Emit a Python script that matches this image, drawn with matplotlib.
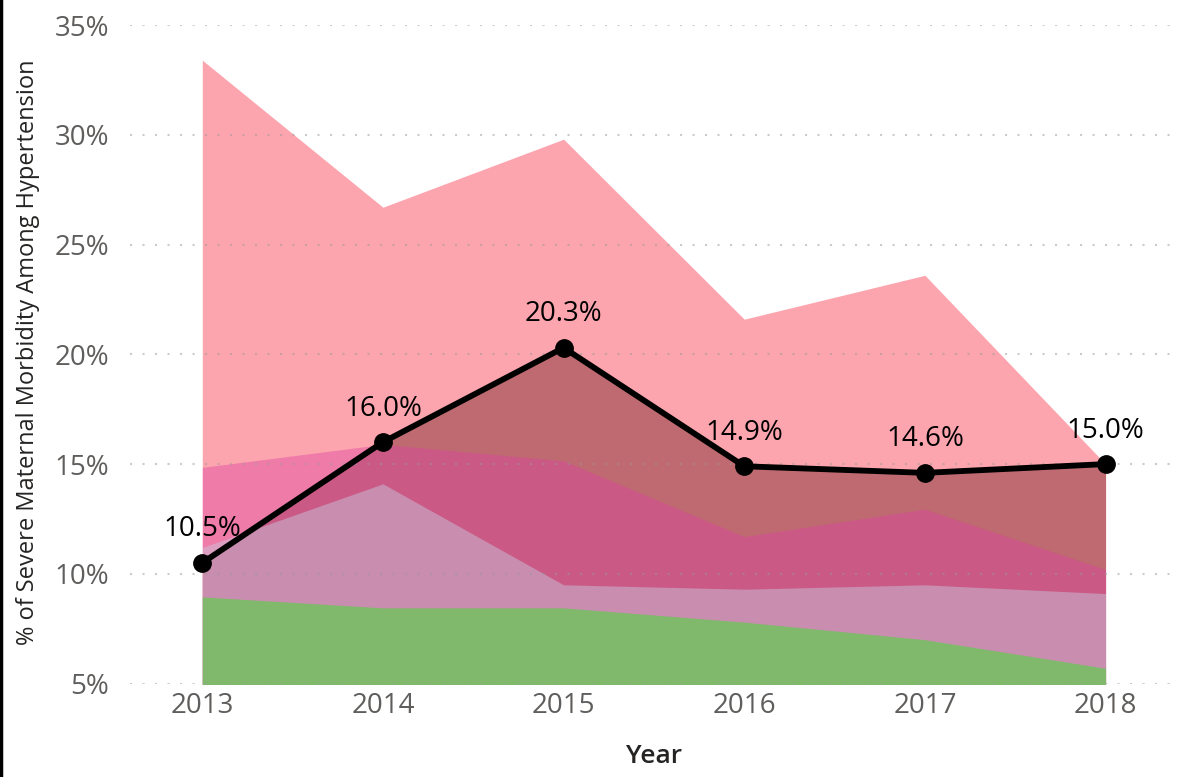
import matplotlib
matplotlib.use("Agg")
import matplotlib.pyplot as plt
from matplotlib.lines import Line2D

plt.rcParams['font.family'] = ['Open Sans', 'DejaVu Sans']

# Data (percent)
years = [2013, 2014, 2015, 2016, 2017, 2018]
smm_rate = [10.5, 16.0, 20.3, 14.9, 14.6, 15.0]     # black line
band_top = [33.4, 26.7, 29.8, 21.6, 23.6, 15.0]     # light pink area
band_mid = [14.85, 15.9, 15.15, 11.7, 12.95, 10.2]  # pink/magenta area
band_low = [11.2, 14.1, 9.5, 9.3, 9.5, 9.1]         # mauve area
band_base = [8.95, 8.45, 8.45, 7.8, 7.0, 5.7]       # green area
y_ticks = [5, 10, 15, 20, 25, 30, 35]

fig = plt.figure(figsize=(11.82, 7.77), dpi=100)
ax = fig.add_axes([0.110, 0.1202, 0.888, 0.8476])

# Areas (overlapping, not stacked)
ax.fill_between(years, 0, band_top, color="#FDA5AE", lw=0, zorder=1)
ax.fill_between(years, 0, smm_rate, color="#BE6A70", lw=0, zorder=1.1)
ax.fill_between(years, 0, band_mid, color="#DC45A2", alpha=0.43, lw=0, zorder=1.2)
ax.fill_between(years, 0, band_low, color="#C7CBE1", alpha=0.46, lw=0, zorder=1.3)
ax.fill_between(years, 0, band_base, color="#80B96B", lw=0, zorder=1.4)

# Line with markers and labels
ax.plot(years, smm_rate, color="black", lw=4.2, marker="o", markersize=12.5,
        zorder=4, solid_joinstyle="round")
for x, v in zip(years, smm_rate):
    ax.annotate(f"{v:.1f}%", (x, v), xytext=(0, 19), textcoords="offset points",
                ha="center", va="baseline", fontsize=20, color="black", zorder=5)

ax.set_xlim(2012.6, 2018.41)
ax.set_ylim(5, 35)
ax.set_xticks(years)
ax.set_xticklabels([str(y) for y in years])
ax.set_yticks(y_ticks)
ax.set_yticklabels([f"{t}%" for t in y_ticks])

ax.set_axisbelow(False)
ax.yaxis.grid(True, color="#999999", alpha=0.5, linewidth=1.5,
              linestyle=(0, (1, 5)))
ax.xaxis.grid(False)

for s in ax.spines.values():
    s.set_visible(False)
ax.tick_params(axis="both", length=0, labelsize=20, labelcolor="#605E5C")
ax.tick_params(axis="y", pad=15)
ax.tick_params(axis="x", pad=6)

ax.set_ylabel("% of Severe Maternal Morbidity Among Hypertension",
              fontsize=17, fontweight="medium", color="#252423")
ax.yaxis.set_label_coords(-0.086, 0.503)
ax.set_xlabel("Year", fontsize=19, fontweight="semibold", color="#252423")
ax.xaxis.set_label_coords(0.499, -0.092)

# left border of the visual
fig.add_artist(Line2D([0.001, 0.001], [0, 1], transform=fig.transFigure,
                      color="black", lw=2.5))

fig.savefig("out.png", dpi=100, facecolor="white")
